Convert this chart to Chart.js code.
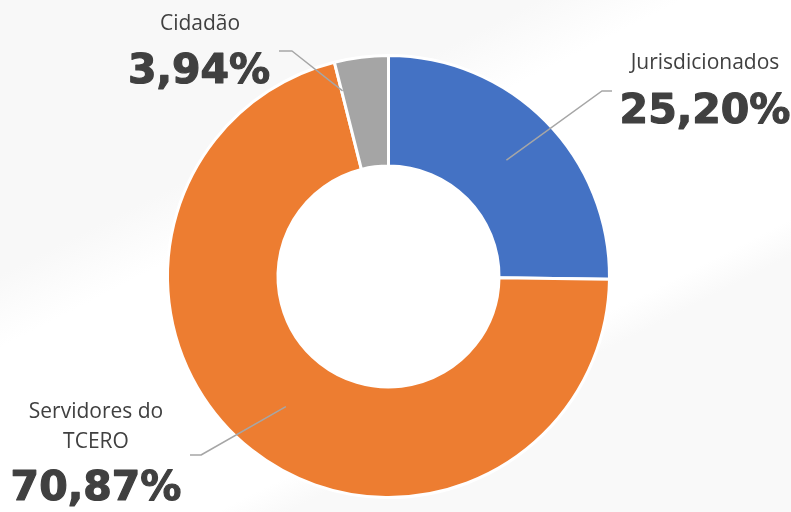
<!DOCTYPE html>
<html>
<head>
<meta charset="utf-8">
<script src="https://cdn.jsdelivr.net/npm/chart.js@4/dist/chart.umd.min.js"></script>
<style>
  html, body {
    margin: 0;
    padding: 0;
  }
  body {
    width: 791px;
    height: 512px;
    overflow: hidden;
    background: linear-gradient(153deg, #f8f8f8 0%, #f8f8f8 30%, #ffffff 38%, #ffffff 68%, #f9f9f9 72%, #f9f9f9 100%);
  }
  #chart {
    display: block;
  }
</style>
</head>
<body>
<canvas id="chart" width="791" height="512"></canvas>
<script>
// data
const categories = ["Jurisdicionados", "Servidores do TCERO", "Cidadão"];
const shares = [25.20, 70.87, 3.94];
const shareLabels = ["25,20%", "70,87%", "3,94%"];
const sliceColors = ["#4472C4", "#ED7D31", "#A5A5A5"];

// where each label sits and how its leader line bends
const labelLayout = [
  { nameLines: ["Jurisdicionados"], nameX: 705, nameY: [69], pctX: 705, pctY: 123,
    elbow: [602, 91], end: [612, 91], angleFrac: 0.5, radiusFrac: 0.5 },
  { nameLines: ["Servidores do", "TCERO"], nameX: 96, nameY: [418, 448], pctX: 96, pctY: 500,
    elbow: [201, 455], end: [190, 455], angleFrac: 0.5, radiusFrac: 0.5 },
  { nameLines: ["Cidadão"], nameX: 200, nameY: [30], pctX: 199, pctY: 83,
    elbow: [292, 51], end: [279, 51], angleFrac: 0.02, radiusFrac: 0.73 }
];

const calloutPlugin = {
  id: "callouts",
  afterDatasetsDraw(chart) {
    const ctx = chart.ctx;
    const arcs = chart.getDatasetMeta(0).data;
    ctx.save();
    arcs.forEach(function (arc, i) {
      const lay = labelLayout[i];
      const p = arc.getProps(["x", "y", "startAngle", "endAngle", "innerRadius", "outerRadius"], true);
      const ang = p.startAngle + (p.endAngle - p.startAngle) * lay.angleFrac;
      const r = p.innerRadius + (p.outerRadius - p.innerRadius) * lay.radiusFrac;
      const ax = p.x + Math.cos(ang) * r;
      const ay = p.y + Math.sin(ang) * r;

      // leader line
      ctx.strokeStyle = "#a6a6a6";
      ctx.lineWidth = 1.5;
      ctx.beginPath();
      ctx.moveTo(ax, ay);
      ctx.lineTo(lay.elbow[0], lay.elbow[1]);
      ctx.lineTo(lay.end[0], lay.end[1]);
      ctx.stroke();

      // category name
      ctx.fillStyle = "#404040";
      ctx.textAlign = "center";
      ctx.textBaseline = "alphabetic";
      ctx.font = "21px 'Open Sans'";
      lay.nameLines.forEach(function (line, j) {
        ctx.fillText(line, lay.nameX, lay.nameY[j]);
      });

      // percentage, a touch heavier than plain bold
      ctx.font = "bold 41px 'DejaVu Sans'";
      ctx.strokeStyle = "#404040";
      ctx.lineWidth = 1.2;
      ctx.lineJoin = "round";
      ctx.fillText(shareLabels[i], lay.pctX, lay.pctY);
      ctx.strokeText(shareLabels[i], lay.pctX, lay.pctY);
    });
    ctx.restore();
  }
};

new Chart(document.getElementById("chart"), {
  type: "doughnut",
  data: {
    labels: categories,
    datasets: [{
      data: shares,
      backgroundColor: sliceColors,
      borderColor: "#ffffff",
      borderWidth: 3
    }]
  },
  options: {
    responsive: false,
    animation: false,
    cutout: "50%",
    layout: {
      padding: { left: 166, right: 180, top: 54, bottom: 13 }
    },
    plugins: {
      legend: { display: false },
      tooltip: { enabled: false }
    }
  },
  plugins: [calloutPlugin]
});
</script>
</body>
</html>
